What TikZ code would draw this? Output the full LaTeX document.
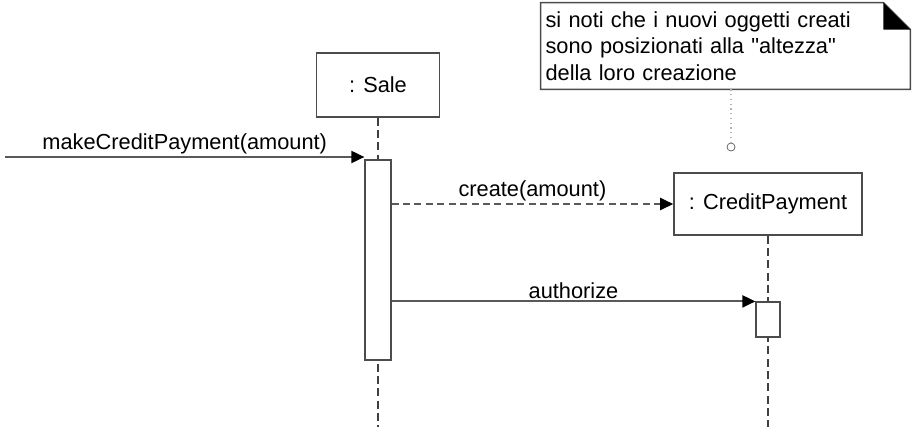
\documentclass[tikz,border=0pt]{standalone}
\usepackage{fontspec}
\setmainfont{Liberation Sans}
\usetikzlibrary{arrows.meta}
\usetikzlibrary{positioning}
\tikzset{obj/.style = {draw = gray!60!black, fill = white, line width = 0.9pt, inner sep = 0},
  act/.style = {draw = gray!60!black, fill = white, line width = 0.7pt, inner sep = 0},
  lifeline/.style = {black!75, line width = 0.7pt, dash pattern = on 4.5pt off 2.5pt},
  msg/.style = {gray!70!black, line width = 1.1pt, -{Triangle[length = 0.26cm, width = 0.24cm, color = black]}},
  lbl/.style = {black, inner sep = 1pt}}
\begin{document}
\begin{tikzpicture}[x = 0.02cm, y = -0.02cm, font = \fontsize{12.4}{15}\selectfont]
      \useasboundingbox (0, 0) rectangle (919, 427);
      % objects
      \node [obj, minimum width = 2.46cm, minimum height = 1.28cm] (sale) at (378, 85) {: Sale};
      \node [obj, minimum width = 3.76cm, minimum height = 1.24cm] (credit) at (768, 204) {: CreditPayment};
      % lifelines
      \draw [lifeline] (sale.south) -- (378, 427);
      \draw [lifeline] (credit.south) -- (768, 427);
      \node [act, minimum width = 0.52cm, minimum height = 4cm] (actSale) at (378, 260) {};
      \node [act, minimum width = 0.48cm, minimum height = 0.7cm] (actCredit) at (768, 319.5) {};
      % messages
      \coordinate (caller) at (5, 157);
      \draw [msg] (caller) -- (caller -| actSale.west) node [lbl, pos = 0.5, above] {makeCreditPayment(amount)};
      \draw [msg, dash pattern = on 4pt off 2.5pt] (actSale.east |- credit.west) -- (credit.west) node [lbl, pos = 0.5, above] {create(amount)};
      \draw [msg] (actSale.east |- actCredit.north west) -- (actCredit.north west) node [lbl, pos = 0.5, above] {authorize};
      % note
      \node [minimum width = 7.38cm, minimum height = 1.72cm, text width = 7.2cm, align = left, inner xsep = 0.09cm] (note) at (725.5, 46) {si noti che i nuovi oggetti creati\\sono posizionati alla \textquotedbl altezza\textquotedbl\\della loro creazione};
      \draw [gray!60!black, line width = 0.9pt] (note.north west) -- ([xshift = -0.54cm] note.north east) -- ([yshift = -0.54cm] note.north east) -- (note.south east) -- (note.south west) -- cycle;
      \fill ([xshift = -0.54cm] note.north east) -- ([yshift = -0.54cm] note.north east) -- ([xshift = -0.54cm, yshift = -0.54cm] note.north east) -- cycle;
      \node [circle, draw = gray!70!black, fill = white, inner sep = 0, minimum size = 0.16cm] (pin) at (731, 147) {};
      \draw [gray!60, dotted, line width = 0.7pt] (note.south -| pin) -- (pin.north);
    \end{tikzpicture}
\end{document}
